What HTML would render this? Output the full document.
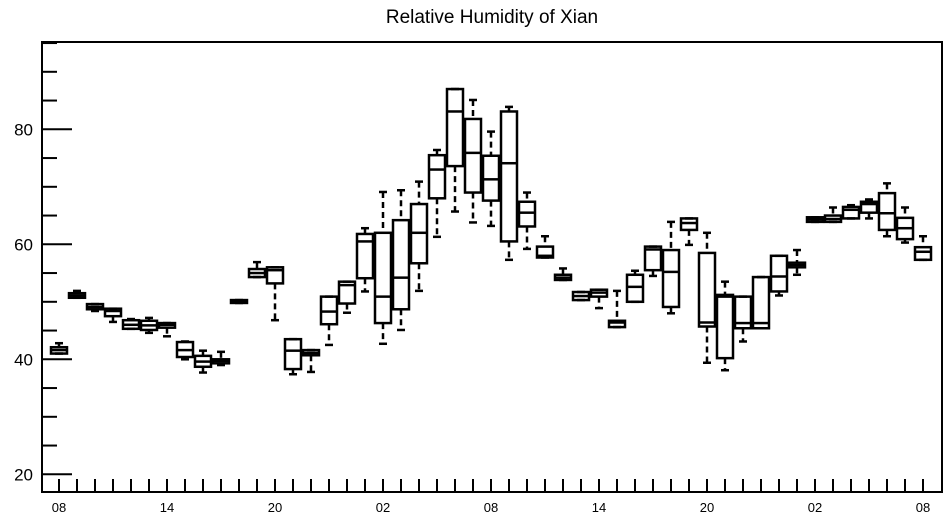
<!DOCTYPE html>
<html><head><meta charset="utf-8"><style>
body{margin:0;background:#fff;}
svg{display:block;font-family:"Liberation Sans",Arial,sans-serif;}
</style></head><body>
<svg id="chart" width="947" height="520" viewBox="0 0 947 520" xmlns="http://www.w3.org/2000/svg">
<text x="492" y="23" text-anchor="middle" font-size="19">Relative Humidity of Xian</text>
<g id="axes"></g>
<g id="boxes"></g>
</svg>
<script>
const hours = ["08","09","10","11","12","13","14","15","16","17","18","19","20","21","22","23","00","01","02","03","04","05","06","07","08","09","10","11","12","13","14","15","16","17","18","19","20","21","22","23","00","01","02","03","04","05","06","07","08"];
const mins = [41.0,50.7,48.4,46.5,45.3,44.6,44.0,40.0,37.7,39.0,49.8,54.3,46.8,37.4,37.8,42.5,48.1,51.8,42.7,45.1,51.9,61.3,65.7,63.8,63.2,57.3,59.2,57.7,53.8,50.3,48.9,45.6,50.0,54.5,48.0,59.9,39.4,38.1,43.1,45.4,51.1,54.7,63.9,63.9,64.5,64.5,61.4,60.3,57.3];
const q1s = [41.0,50.7,48.7,47.5,45.3,45.1,45.5,40.4,38.7,39.3,49.8,54.3,53.2,38.3,40.7,46.1,49.7,54.1,46.3,48.7,56.7,68.0,73.6,69.0,67.6,60.5,63.1,57.7,53.8,50.3,50.9,45.6,50.0,55.5,49.1,62.5,45.7,40.2,45.4,45.4,51.8,56.0,63.9,63.9,64.5,65.5,62.5,60.9,57.3];
const medians = [41.6,51.1,49.1,48.4,46.0,45.9,46.0,41.6,39.6,39.7,50.0,55.0,55.5,41.5,41.1,48.3,52.9,60.5,50.9,54.2,62.0,73.0,83.1,75.9,71.3,74.1,65.5,58.0,54.2,51.0,51.6,46.4,52.6,59.1,55.2,63.7,46.4,50.9,46.3,46.3,54.4,56.4,64.3,64.4,66.0,67.0,65.4,62.8,58.7];
const q3s = [42.1,51.5,49.6,48.8,46.8,46.7,46.3,43.0,40.6,40.0,50.3,55.7,56.0,43.5,41.6,50.9,53.5,61.8,62.0,64.2,67.0,75.5,87.0,81.8,75.4,83.1,67.4,59.6,54.7,51.7,52.1,46.7,54.7,59.6,59.0,64.5,58.5,51.2,50.9,54.3,58.0,56.8,64.7,65.0,66.5,67.4,68.9,64.6,59.5];
const maxs = [42.8,51.9,49.6,48.8,47.0,47.2,46.3,43.1,41.5,41.3,50.3,56.9,56.0,43.5,41.6,50.9,53.5,62.8,69.1,69.4,70.9,76.4,87.0,85.1,79.6,83.9,69.0,61.4,55.8,51.7,52.1,51.9,55.4,59.6,63.9,64.5,62.0,53.5,50.9,54.3,58.0,59.0,64.7,66.4,66.8,67.8,70.6,66.4,61.4];
const yTicks = [20,40,60,80];

const NS="http://www.w3.org/2000/svg";
const L=42,R=942,T=42,B=492;
const yv=v=>474.3-(v-20)*5.75;
const xi=i=>59+i*18.0;
function mk(tag,attrs,parent){const e=document.createElementNS(NS,tag);for(const k in attrs)e.setAttribute(k,attrs[k]);parent.appendChild(e);return e;}
const ax=document.getElementById('axes'), bx=document.getElementById('boxes');
const frame=mk('rect',{x:L,y:T,width:R-L,height:B-T,fill:'none',stroke:'#000','stroke-width':2},ax);


for(let v=20;v<=95;v+=5){
  const major=yTicks.includes(v);
  const t=mk('line',{x1:L,x2:L+(major?30:15),y1:yv(v),y2:yv(v),stroke:'#000','stroke-width':2},ax);
  
  
  if(major){
    const lb=mk('text',{x:33,y:yv(v)+6,'text-anchor':'end','font-size':17},ax);
    
    
    lb.textContent=v;
  }
}
hours.forEach((h,i)=>{
  const x=xi(i);
  const t=mk('line',{x1:x,x2:x,y1:B,y2:B-13,stroke:'#000','stroke-width':2},ax);
  
  
  if(i%6===0){
    const lb=mk('text',{x:x,y:512,'text-anchor':'middle','font-size':13},ax);
    
    
    lb.textContent=h;
  }
});
hours.forEach((h,i)=>{
  const x=xi(i),w=16;
  const g=mk('g',{},bx);
  
  
  const st={stroke:'#000','stroke-width':2.5,fill:'none'};
  mk('line',Object.assign({x1:x,x2:x,y1:yv(maxs[i]),y2:yv(q3s[i]),'stroke-dasharray':'6 4'},st),g);
  mk('line',Object.assign({x1:x,x2:x,y1:yv(q1s[i]),y2:yv(mins[i]),'stroke-dasharray':'6 4'},st),g);
  mk('line',Object.assign({x1:x-4,x2:x+4,y1:yv(maxs[i]),y2:yv(maxs[i])},st),g);
  mk('line',Object.assign({x1:x-4,x2:x+4,y1:yv(mins[i]),y2:yv(mins[i])},st),g);
  mk('rect',Object.assign({x:x-w/2,y:yv(q3s[i]),width:w,height:Math.max(1,yv(q1s[i])-yv(q3s[i]))},st),g);
  mk('line',Object.assign({x1:x-w/2,x2:x+w/2,y1:yv(medians[i]),y2:yv(medians[i])},st),g);
});
</script>
</body></html>
